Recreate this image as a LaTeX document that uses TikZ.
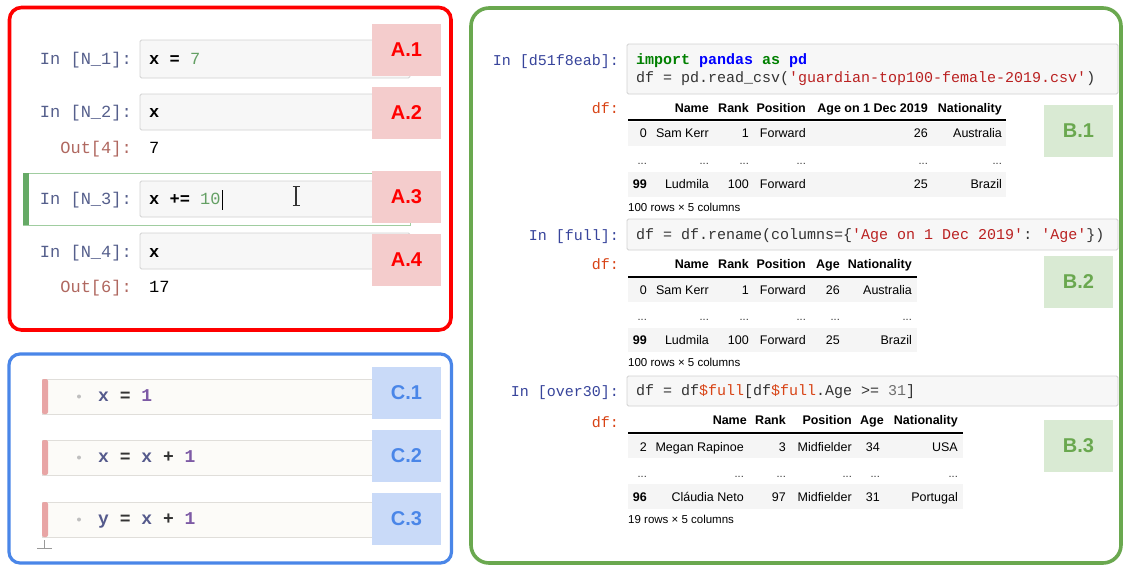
\documentclass[tikz,border=0pt]{standalone}
\usepackage{fontspec}
\setmainfont{Liberation Sans}
\setmonofont{Liberation Mono}
\definecolor{panelred}{RGB}{255,0,0}
\definecolor{panelblue}{RGB}{74,134,232}
\definecolor{panelgreen}{RGB}{106,168,79}
\definecolor{labred}{RGB}{244,204,204}
\definecolor{labblue}{RGB}{201,218,248}
\definecolor{labgreen}{RGB}{217,234,211}
\definecolor{promptA}{RGB}{85,95,140}
\definecolor{outA}{RGB}{176,104,96}
\definecolor{numA}{RGB}{100,160,100}
\definecolor{cellfill}{RGB}{247,247,247}
\definecolor{cellborder}{RGB}{210,210,210}
\definecolor{selgreen}{RGB}{102,170,102}
\definecolor{selborder}{RGB}{160,205,160}
\definecolor{cfill}{RGB}{252,251,248}
\definecolor{cborder}{RGB}{224,222,218}
\definecolor{cbar}{RGB}{232,165,165}
\definecolor{cvar}{RGB}{85,90,140}
\definecolor{cnum}{RGB}{125,90,165}
\definecolor{promptB}{RGB}{55,68,155}
\definecolor{outB}{RGB}{216,67,21}
\definecolor{kwgreen}{RGB}{0,128,0}
\definecolor{kwblue}{RGB}{0,0,255}
\definecolor{strred}{RGB}{186,33,33}
\definecolor{rowgrey}{RGB}{245,245,245}
\definecolor{codetxt}{RGB}{51,51,51}
\definecolor{numgrey}{RGB}{110,110,110}
\tikzset{
  labbox/.style={minimum width=69pt, minimum height=52pt, inner sep=0pt, font=\fontsize{20}{24}\selectfont\bfseries},
  labA/.style={labbox, fill=labred, text=panelred},
  labB/.style={labbox, fill=labgreen, text=panelgreen},
  labC/.style={labbox, fill=labblue, text=panelblue},
  txt/.style={inner sep=0pt, yshift=-2pt},
  promptAst/.style={txt, anchor=mid east, text=promptA, font=\fontsize{17}{20}\selectfont\ttfamily},
  outAst/.style={txt, anchor=mid east, text=outA, font=\fontsize{17}{20}\selectfont\ttfamily},
  codeA/.style={txt, anchor=mid west, text=black, font=\fontsize{17}{20}\selectfont\ttfamily},
  codeC/.style={txt, anchor=mid west, text=codetxt, font=\fontsize{18}{21}\selectfont\ttfamily\bfseries},
  promptBst/.style={txt, anchor=mid east, text=promptB, font=\fontsize{15}{18}\selectfont\ttfamily},
  dfst/.style={txt, anchor=mid east, text=outB, font=\fontsize{15}{18}\selectfont\ttfamily},
  codeB/.style={txt, anchor=mid west, text=codetxt, font=\fontsize{15}{18}\selectfont\ttfamily},
  thd/.style={txt, anchor=mid east, text=black, font=\fontsize{12.5}{14}\selectfont\bfseries},
  tcell/.style={txt, anchor=mid east, text=black, font=\fontsize{12.5}{14}\selectfont},
  tidx/.style={txt, anchor=mid east, text=black, font=\fontsize{12.5}{14}\selectfont\bfseries},
  tdots/.style={txt, anchor=base east, text=codetxt, font=\fontsize{11}{13}\selectfont},
  tfoot/.style={txt, anchor=mid west, text=black, font=\fontsize{11.5}{13}\selectfont},
  inbox/.style={draw=cellborder, fill=cellfill, line width=0.8pt, rounded corners=1.5pt},
  cbox/.style={draw=cborder, fill=cfill, line width=0.8pt},
}
\begin{document}
\begin{tikzpicture}[x=1pt,y=-1pt]
\useasboundingbox (0,0) rectangle (1125,565);
\fill[white] (0,0) rectangle (1125,565);

% ================= Panel A =================
\draw[panelred, line width=3.6pt, rounded corners=12pt] (9.5,7.5) rectangle (451,330);

% selected cell A.3
\draw[selborder, line width=1pt] (23,173) rectangle (410,225);
\fill[selgreen] (23,173) rectangle (29,225);

\draw[inbox] (140,40) rectangle (410,78);
\draw[inbox] (140,94) rectangle (410,130);
\draw[inbox] (140,181) rectangle (410,217);
\draw[inbox] (140,233) rectangle (410,269);

\node[promptAst] (pA1) at (132,60) {In [N\_1]:};
\node[codeA] (cA1) at (149,60) {{\bfseries x =} {\color{numA}7}};
\node[promptAst] (pA2) at (132,113) {In [N\_2]:};
\node[codeA] (cA2) at (149,113) {\bfseries x};
\node[outAst] (oA2) at (132,149) {Out[4]:};
\node[codeA] (rA2) at (149,149) {7};
\node[promptAst] (pA3) at (132,200) {In [N\_3]:};
\node[codeA] (cA3) at (149,200) {{\bfseries x +=} {\color{numA}10}};
\node[promptAst] (pA4) at (132,253) {In [N\_4]:};
\node[codeA] (cA4) at (149,253) {\bfseries x};
\node[outAst] (oA4) at (132,288) {Out[6]:};
\node[codeA] (rA4) at (149,288) {17};

% text cursor and I-beam
\draw[black, line width=1pt] (222.5,190) -- (222.5,210);
\draw[codetxt, line width=1.1pt] (296,187) -- (296,205);
\draw[codetxt, line width=1pt] (292.5,186.5) -- (299.5,186.5);
\draw[codetxt, line width=1pt] (292.5,205.5) -- (299.5,205.5);

\node[labA] (A1) at (406.5,50) {A.1};
\node[labA] (A2) at (406.5,113) {A.2};
\node[labA] (A3) at (406.5,197) {A.3};
\node[labA] (A4) at (406.5,260) {A.4};

% ================= Panel C =================
\draw[panelblue, line width=3.2pt, rounded corners=11pt] (9,354) rectangle (451.5,563);

\foreach \ya/\yb/\nm in {379/414/1, 440/475/2, 502/537/3}{
  \draw[cbox] (42,\ya) rectangle (410,\yb);
  \fill[cbar, rounded corners=2pt] (42,\ya) rectangle (48,\yb);
  \fill[black!25] (79,{(\ya+\yb)/2}) circle (2pt);
}
\node[codeC] (cC1) at (98,396.5) {{\color{cvar}x} = {\color{cnum}1}};
\node[codeC] (cC2) at (98,457.5) {{\color{cvar}x} = {\color{cvar}x} + {\color{cnum}1}};
\node[codeC] (cC3) at (98,519.5) {{\color{cvar}y} = {\color{cvar}x} + {\color{cnum}1}};

\draw[black!40, line width=0.8pt] (37,548) -- (52,548);
\draw[black!40, line width=0.8pt] (44.5,540) -- (44.5,548);

\node[labC] (C1) at (406.5,393) {C.1};
\node[labC] (C2) at (406.5,456) {C.2};
\node[labC] (C3) at (406.5,518.5) {C.3};

% ================= Panel B =================
\draw[panelgreen, line width=3.6pt, rounded corners=18pt] (471,8) rectangle (1121,563);

% --- B.1 ---
\draw[inbox] (627,44) rectangle (1118,94);
\node[promptBst] (pB1) at (619,61) {In [d51f8eab]:};
\node[codeB] (cB1a) at (636,60) {\bfseries{\color{kwgreen}import} {\color{kwblue}pandas} {\color{kwgreen}as} {\color{kwblue}pd}};
\node[codeB] (cB1b) at (636,78) {df = pd.read\_csv({\color{strred}'guardian-top100-female-2019.csv'})};
\node[dfst] (dB1) at (619,109) {df:};

\fill[rowgrey] (628,122) rectangle (1006,146);
\fill[rowgrey] (628,172) rectangle (1006,197);
\draw[black, line width=1.2pt] (628,120) -- (1006,120);
\foreach \t/\x [count=\i] in {Name/709, Rank/749, Position/806, Age on 1 Dec 2019/928, Nationality/1002}
  \node[thd] (tAh\i) at (\x,108) {\t};
\node[tcell] (tAr1i) at (647,133) {0};
\foreach \t/\x [count=\i] in {Sam Kerr/709, 1/749, Forward/806, 26/928, Australia/1002}
  \node[tcell] (tAr1\i) at (\x,133) {\t};
\foreach \x [count=\i] in {647,709,749,806,928,1002}
  \node[tdots] (tAd\i) at (\x,162) {...};
\node[tidx] (tAr3i) at (647,184) {99};
\foreach \t/\x [count=\i] in {Ludmila/709, 100/749, Forward/806, 25/928, Brazil/1002}
  \node[tcell] (tAr3\i) at (\x,184) {\t};
\node[tfoot] (fB1) at (628,207) {100 rows × 5 columns};

\node[labB] (B1) at (1078.5,131) {B.1};

% --- B.2 ---
\draw[inbox] (627,219) rectangle (1118,250);
\node[promptBst] (pB2) at (619,236) {In [full]:};
\node[codeB] (cB2) at (636,235) {df = df.rename(columns=\{{\color{strred}'Age on 1 Dec 2019'}: {\color{strred}'Age'}\})};
\node[dfst] (dB2) at (619,265) {df:};

\fill[rowgrey] (628,278) rectangle (917,302);
\fill[rowgrey] (628,328) rectangle (917,352);
\draw[black, line width=1.2pt] (628,277) -- (917,277);
\foreach \t/\x [count=\i] in {Name/709, Rank/749, Position/806, Age/840, Nationality/912}
  \node[thd] (tBh\i) at (\x,264) {\t};
\node[tcell] (tBr1i) at (647,290) {0};
\foreach \t/\x [count=\i] in {Sam Kerr/709, 1/749, Forward/806, 26/840, Australia/912}
  \node[tcell] (tBr1\i) at (\x,290) {\t};
\foreach \x [count=\i] in {647,709,749,806,840,912}
  \node[tdots] (tBd\i) at (\x,318) {...};
\node[tidx] (tBr3i) at (647,340) {99};
\foreach \t/\x [count=\i] in {Ludmila/709, 100/749, Forward/806, 25/840, Brazil/912}
  \node[tcell] (tBr3\i) at (\x,340) {\t};
\node[tfoot] (fB2) at (628,362) {100 rows × 5 columns};

\node[labB] (B2) at (1078.5,282) {B.2};

% --- B.3 ---
\draw[inbox] (627,376) rectangle (1118,406);
\node[promptBst] (pB3) at (619,392) {In [over30]:};
\node[codeB] (cB3) at (636,391) {df = df{\color{outB}\$full}[df{\color{outB}\$full}.Age >= {\color{numgrey}31}]};
\node[dfst] (dB3) at (619,423) {df:};

\fill[rowgrey] (628,435) rectangle (963,458);
\fill[rowgrey] (628,484) rectangle (963,509);
\draw[black, line width=1.2pt] (628,433) -- (963,433);
\foreach \t/\x [count=\i] in {Name/747, Rank/786, Position/852, Age/884, Nationality/958}
  \node[thd] (tCh\i) at (\x,420) {\t};
\node[tcell] (tCr1i) at (647,447) {2};
\foreach \t/\x [count=\i] in {Megan Rapinoe/744, 3/786, Midfielder/852, 34/880, USA/958}
  \node[tcell] (tCr1\i) at (\x,447) {\t};
\foreach \x [count=\i] in {647,744,786,852,880,958}
  \node[tdots] (tCd\i) at (\x,475) {...};
\node[tidx] (tCr3i) at (647,497) {96};
\foreach \t/\x [count=\i] in {Cláudia Neto/744, 97/786, Midfielder/852, 31/880, Portugal/958}
  \node[tcell] (tCr3\i) at (\x,497) {\t};
\node[tfoot] (fB3) at (628,519) {19 rows × 5 columns};

\node[labB] (B3) at (1078.5,446) {B.3};
\end{tikzpicture}
\end{document}
